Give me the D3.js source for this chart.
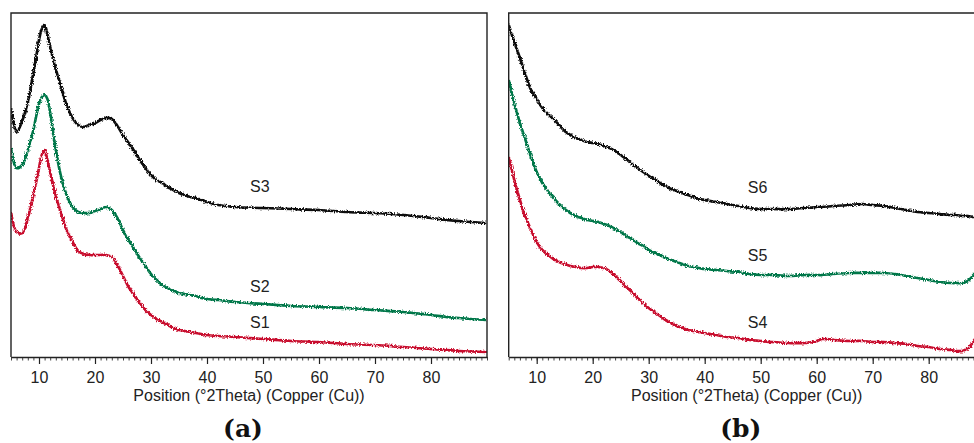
<!DOCTYPE html>
<html>
<head>
<meta charset="utf-8">
<script src="https://cdn.jsdelivr.net/npm/d3@7/dist/d3.min.js"></script>
<style>
  html, body { margin: 0; padding: 0; background: #fff; }
  svg { display: block; }
  text { font-family: "Liberation Sans", Arial, sans-serif; }
</style>
</head>
<body>
<svg id="chart" width="974" height="443"></svg>
<script>
// Diffraction angle samples (°2θ) and intensities (a.u., offset per trace)
const anglesA = [5,6,7,8,9,9.5,10,10.5,11,11.5,12,13,14,15,16,17,18,19,20,21,22,23,24,25,26,27,28,29,30,31,32,33,34,35,36,37,38,39,40,42,45,50,55,60,65,70,75,80,85,90];
const s3 = [249,225,236,255,284,300,317,328,332,323,310,288,269,251,239,232,230,232,234,237,239,238,231,222,214,206,197,189,182,177,174,170,167,164,162,160,159,157,155,152,150,149,148,147,145,144,142,139,136,134];
const s2 = [209,189,192,207,227,241,253,260,262,258,244,207,179,161,150,145,144,144,146,148,150,147,139,127,117,108,99,91,83,77,72,69,66,64,63,62,61,59,58,57,55,53,51,50,49,47,45,42,39,37];
const s1 = [145,125,124,139,162,175,189,202,207,197,185,161,143,126,115,106,103,102,102,102,102,100,92,81,70,62,54,47,42,38,35,32,29,27,26,25,24,23,22,21,20,18,16,15,13,12,10,8,6,5];

const anglesB = [5,6,7,8,9,10,11,12,13,14,15,16,17,18,19,20,21,22,23,24,25,26,27,28,29,30,31,32,33,34,35,36,37,38,39,40,42,44,46,48,50,52,55,58,60,61,63,66,68,70,72,74,76,78,80,82,84,85,86,87,88,89,90];
const s6 = [332,315,299,282,267,258,249,243,238,232,226,222,219,217,215,214,213,211,209,206,202,198,193,189,185,181,178,174,171,168,166,164,162,160,158,157,155,153,151,149,148,148,148,149,150,150,151,152,153,152,151,149,147,145,144,143,142,142,141,141,140,140,140];
const s5 = [277,254,234,217,200,185,174,166,159,153,148,144,141,139,137,136,135,133,131,128,125,121,118,114,111,107,104,102,99,97,95,93,91,90,89,88,87,86,85,83,82,82,81,82,82,82,83,84,84,84,84,83,81,79,77,75,74,74,74,76,82,89,93];
const s4 = [200,177,157,140,127,115,107,102,98,95,93,91,90,89,89,90,90,89,86,81,76,70,65,59,54,49,45,41,37,34,31,29,27,26,25,24,22,20,19,17,16,15,14,14,16,18,17,16,16,15,15,14,13,11,10,8,7,6,6,9,15,21,25];

const majorTicks = [10,20,30,40,50,60,70,80];
const axisTitle = "Position (°2Theta) (Copper (Cu))";

const panels = [
  { tag: "(a)", angles: anglesA, left: 11,
    series: [ { name: "S3", values: s3, color: "#111111", lx: 47.7, ly: 165 },
              { name: "S2", values: s2, color: "#00774a", lx: 47.7, ly: 65 },
              { name: "S1", values: s1, color: "#c8102e", lx: 47.7, ly: 29 } ] },
  { tag: "(b)", angles: anglesB, left: 508.7,
    series: [ { name: "S6", values: s6, color: "#111111", lx: 47.7, ly: 164 },
              { name: "S5", values: s5, color: "#00774a", lx: 47.7, ly: 96 },
              { name: "S4", values: s4, color: "#c8102e", lx: 47.7, ly: 29 } ] }
];

const svg = d3.select("#chart");
const plotW = 476, plotTop = 13, plotBottom = 357;

// Grainy trace texture for the scan noise
const defs = svg.append("defs");
const f = defs.append("filter").attr("id", "grain")
  .attr("x", "-2%").attr("y", "-10%").attr("width", "104%").attr("height", "120%");
f.append("feTurbulence").attr("type", "fractalNoise").attr("baseFrequency", "0.9 0.6")
  .attr("numOctaves", 2).attr("seed", 3).attr("result", "n");
f.append("feDisplacementMap").attr("in", "SourceGraphic").attr("in2", "n")
  .attr("scale", 4).attr("xChannelSelector", "R").attr("yChannelSelector", "G");

panels.forEach((p, i) => {
  const x = d3.scaleLinear().domain([5, 90]).range([p.left, p.left + plotW]);
  const y = d3.scaleLinear().domain([0, 344]).range([plotBottom, plotTop]);
  const g = svg.append("g");

  defs.append("clipPath").attr("id", "clip" + i)
    .append("rect").attr("x", p.left).attr("y", plotTop).attr("width", plotW).attr("height", plotBottom - plotTop);

  const line = d3.line().curve(d3.curveCatmullRom.alpha(0.5))
    .x(d => x(d[0])).y(d => y(d[1]));

  const traces = g.append("g").attr("clip-path", `url(#clip${i})`);
  p.series.forEach(s => {
    traces.append("path")
      .datum(p.angles.map((a, k) => [a, s.values[k]]))
      .attr("d", line)
      .attr("fill", "none")
      .attr("stroke", s.color)
      .attr("stroke-width", 2.7)
      .attr("stroke-linejoin", "round")
      .attr("filter", "url(#grain)");
    g.append("text")
      .attr("x", x(s.lx)).attr("y", y(s.ly))
      .attr("font-size", 16).attr("fill", "#222")
      .text(s.name);
  });

  // frame: top, left, right
  g.append("path")
    .attr("d", `M${p.left},${plotBottom}V${plotTop}H${p.left + plotW}V${plotBottom}`)
    .attr("fill", "none").attr("stroke", "#222").attr("stroke-width", 1.4);

  // minor ticks every degree
  const minor = g.append("g").attr("transform", `translate(0,${plotBottom})`)
    .call(d3.axisBottom(x).tickValues(d3.range(5, 91, 1)).tickSize(3.5).tickSizeOuter(0).tickFormat(""));
  minor.select(".domain").remove();
  minor.selectAll("line").attr("stroke", "#444").attr("stroke-width", 1);

  // major ticks with labels
  const major = g.append("g").attr("transform", `translate(0,${plotBottom})`)
    .call(d3.axisBottom(x).tickValues(majorTicks).tickSize(7).tickSizeOuter(0).tickPadding(8));
  major.select(".domain").attr("stroke", "#222").attr("stroke-width", 1.4);
  major.selectAll("line").attr("stroke", "#222").attr("stroke-width", 1.2);
  major.selectAll("text").attr("font-size", 16).attr("fill", "#222")
    .attr("font-family", "'Liberation Sans', Arial, sans-serif");

  g.append("text")
    .attr("x", p.left + plotW / 2).attr("y", 401)
    .attr("text-anchor", "middle").attr("font-size", 16).attr("fill", "#222")
    .text(axisTitle);

  g.append("text")
    .attr("x", p.left + plotW / 2 - 6).attr("y", 437)
    .attr("text-anchor", "middle").attr("font-size", 25).attr("font-weight", "bold")
    .style("font-family", "'DejaVu Serif', 'Liberation Serif', serif")
    .attr("fill", "#111")
    .text(p.tag);
});
</script>
</body>
</html>
